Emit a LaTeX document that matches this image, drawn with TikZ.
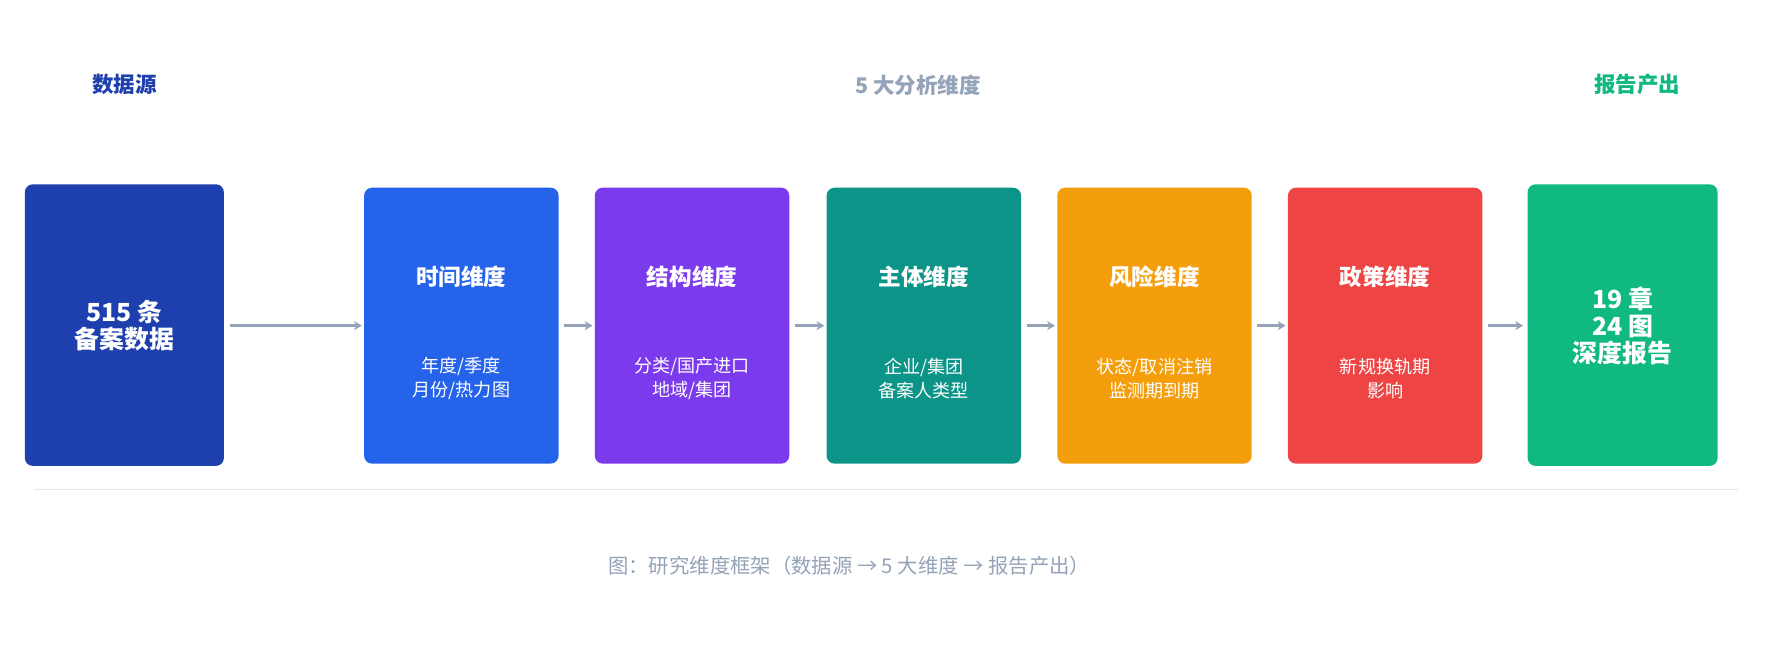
\documentclass[tikz,border=0pt]{standalone}
\usepackage{fontspec}
\setmainfont{Noto Sans CJK SC}
\usetikzlibrary{arrows.meta}
\definecolor{cSrc}{HTML}{1E40AF}
\definecolor{cTime}{HTML}{2563EB}
\definecolor{cStruct}{HTML}{7C3AED}
\definecolor{cSubj}{HTML}{0D9488}
\definecolor{cRisk}{HTML}{F59E0B}
\definecolor{cPol}{HTML}{EF4444}
\definecolor{cRep}{HTML}{10B981}
\definecolor{cGray}{HTML}{94A3B8}
\definecolor{cLine}{HTML}{E2E8F0}
\begin{document}
\begin{tikzpicture}[x=1pt,y=-1pt,
  box/.style={rounded corners=7pt,draw=none},
  title/.style={text=white,font=\bfseries\fontsize{20}{24}\selectfont},
  sub/.style={text=white,align=center,font=\fontsize{16}{21}\selectfont},
  big/.style={text=white,align=center,font=\bfseries\fontsize{22}{24}\selectfont},
  arr/.style={draw=cGray,line width=3pt,-{Stealth[length=7pt,width=8pt]}},
  head/.style={font=\bfseries\fontsize{19}{22}\selectfont}]
\useasboundingbox (0,0) rectangle (1568,578);
\fill[white] (0,0) rectangle (1568,578);
\node[head,text=cSrc] (h1) at (110,75) {数据源};
\node[head,text=cGray] (h2) at (812,75) {5 大分析维度};
\node[head,text=cRep] (h3) at (1448,75) {报告产出};
% boxes
\fill[box,cSrc] (22,163) rectangle (198,412); \coordinate (s) at (110,288);
\node[big] (st) at (110,288) {515 条\\备案数据};
\foreach \x/\c/\n/\t/\s in {322/cTime/b1/时间维度/{年度/季度\\月份/热力图},
  526/cStruct/b2/结构维度/{分类/国产进口\\地域/集团},
  731/cSubj/b3/主体维度/{企业/集团\\备案人类型},
  935/cRisk/b4/风险维度/{状态/取消注销\\监测期到期},
  1139/cPol/b5/政策维度/{新规换轨期\\影响}}{
  \fill[box,\c] (\x,166) rectangle ++(172,244);
  \node[title] (\n t) at (\x+86,245) {\t};
  \node[sub] (\n s) at (\x+86,335) {\s};
  \coordinate (\n L) at (\x,288);
  \coordinate (\n R) at (\x+172,288);
}
\fill[box,cRep] (1351,163) rectangle (1519,412);
\coordinate (rL) at (1351,288);
\node[big] (rt) at (1435,288) {19 章\\24 图\\深度报告};
\coordinate (sR) at (198,288);
\draw[arr] ([xshift=5pt]sR) -- ([xshift=-2pt]b1L);
\draw[arr] ([xshift=5pt]b1R) -- ([xshift=-2pt]b2L);
\draw[arr] ([xshift=5pt]b2R) -- ([xshift=-2pt]b3L);
\draw[arr] ([xshift=5pt]b3R) -- ([xshift=-2pt]b4L);
\draw[arr] ([xshift=5pt]b4R) -- ([xshift=-2pt]b5L);
\draw[arr] ([xshift=5pt]b5R) -- ([xshift=-4pt]rL);
\draw[cLine,line width=1.2pt] (30,433) -- (1537,433);
\node[text=cGray,font=\fontsize{18}{22}\selectfont] (cap) at (751,500) {图：研究维度框架（数据源 → 5 大维度 → 报告产出）};
\end{tikzpicture}
\end{document}
